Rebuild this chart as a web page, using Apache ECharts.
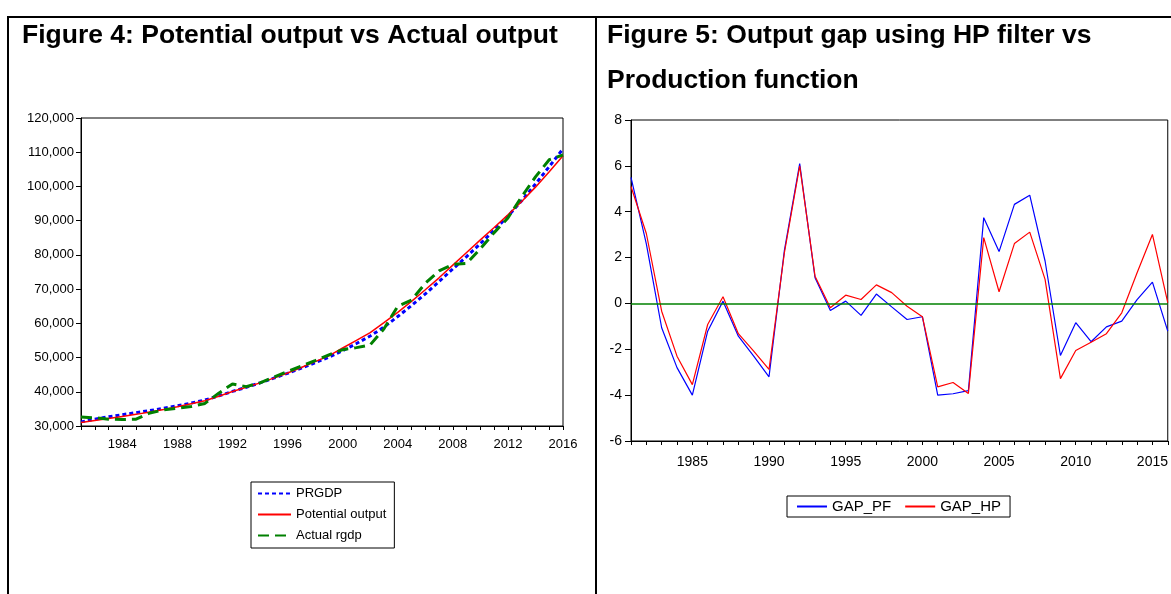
<!DOCTYPE html>
<html>
<head>
<meta charset="utf-8">
<script src="https://cdn.jsdelivr.net/npm/echarts@6/dist/echarts.min.js"></script>
<style>
html,body{margin:0;padding:0;background:#fff;}
#c{width:1171px;height:594px;}
</style>
</head>
<body>
<div id="c"></div>
<script>
// ---------- DATA ----------
const years = ['1981','1982','1983','1984','1985','1986','1987','1988','1989','1990',
  '1991','1992','1993','1994','1995','1996','1997','1998','1999','2000',
  '2001','2002','2003','2004','2005','2006','2007','2008','2009','2010',
  '2011','2012','2013','2014','2015','2016'];

// Figure 4
const prgdp = [31200,32000,32700,33300,33900,34500,35200,35900,36700,37600,
  38800,40100,41300,42600,44000,45400,46900,48500,50100,52000,
  54100,56300,58900,62000,65200,68600,72200,75900,79500,83300,
  87200,91300,95800,100700,105800,111000];
const potentialOutput = [31000,31600,32200,32800,33400,34100,34800,35600,36500,37400,
  38700,40100,41300,42600,44000,45500,47100,48800,50500,52800,
  55000,57300,60200,63200,66400,69800,73300,77000,80700,84400,
  88000,91700,95600,99800,104300,109000];
const actualRgdp = [32600,32400,32000,31900,32000,33800,34700,35200,35700,36600,
  39600,42300,41500,42600,44300,45900,47500,49100,50800,52300,
  52900,53700,58400,65000,66800,71700,75300,77200,77500,81800,
  86500,90800,97000,102800,107800,109200];

// Figure 5
const gapPF = [5.5,2.6,-1.06,-2.8,-4.0,-1.21,0.1,-1.43,-2.3,-3.2,
  2.3,6.1,1.12,-0.31,0.1,-0.52,0.41,-0.15,-0.7,-0.58,
  -4.0,-3.94,-3.8,3.74,2.26,4.32,4.72,1.85,-2.27,-0.84,
  -1.67,-1.02,-0.77,0.17,0.93,-1.21];
const gapHP = [5.1,3.05,-0.34,-2.3,-3.54,-0.92,0.29,-1.32,-2.08,-2.88,
  2.2,6.0,1.19,-0.19,0.36,0.17,0.81,0.47,-0.12,-0.58,
  -3.64,-3.45,-3.93,2.87,0.51,2.61,3.11,1.05,-3.28,-2.05,
  -1.69,-1.32,-0.41,1.34,3.01,0.03];

const leftYTicks = {min:30000, max:120000, step:10000};
const rightYTicks = {min:-6, max:8, step:2};

// ---------- CHART ----------
const chart = echarts.init(document.getElementById('c'), null, {renderer:'canvas'});
const FONT = '"Liberation Sans", Arial, sans-serif';
const axisCommon = {
  splitLine:{show:false}
};

const option = {
  backgroundColor:'#fff',
  animation:false,
  textStyle:{fontFamily:FONT},
  graphic:[
    {type:'line', shape:{x1:7,y1:17,x2:1171,y2:17}, style:{stroke:'#000', lineWidth:2}},
    {type:'line', shape:{x1:8,y1:17,x2:8,y2:594}, style:{stroke:'#000', lineWidth:2}},
    {type:'line', shape:{x1:596,y1:17,x2:596,y2:594}, style:{stroke:'#000', lineWidth:2}},
    {type:'text', left:22, top:22, style:{text:'Figure 4: Potential output vs Actual output', font:'bold 26.5px ' + FONT, fill:'#000'}},
    {type:'text', left:607, top:22, style:{text:'Figure 5: Output gap using HP filter vs', font:'bold 26.5px ' + FONT, fill:'#000'}},
    {type:'text', left:607, top:67, style:{text:'Production function', font:'bold 26.5px ' + FONT, fill:'#000'}}
  ],
  grid:[
    {left:81, top:118, width:482, height:308, show:true, borderColor:'#000', borderWidth:1, backgroundColor:'rgba(0,0,0,0)'},
    {left:631, top:120, width:538, height:321, show:true, borderColor:'#000', borderWidth:1, backgroundColor:'rgba(0,0,0,0)'}
  ],
  xAxis:[
    Object.assign({}, axisCommon, {
      gridIndex:0, type:'category', data:years, boundaryGap:false,
      axisLine:{show:true, onZero:false, lineStyle:{color:'#000', width:1}},
      axisTick:{show:true, interval:0, length:4, lineStyle:{color:'#000'}},
      axisLabel:{interval:(i,v)=> (+v)%4===0, color:'#000', fontSize:13, margin:12, fontFamily:FONT}
    }),
    Object.assign({}, axisCommon, {
      gridIndex:1, type:'category', data:years, boundaryGap:false,
      axisLine:{show:true, onZero:false, lineStyle:{color:'#000', width:1}},
      axisTick:{show:true, interval:0, length:4, lineStyle:{color:'#000'}},
      axisLabel:{interval:(i,v)=> (+v)%5===0, color:'#000', fontSize:14, margin:14, fontFamily:FONT}
    })
  ],
  yAxis:[
    Object.assign({}, axisCommon, {
      gridIndex:0, type:'value', min:leftYTicks.min, max:leftYTicks.max, interval:leftYTicks.step,
      axisLine:{show:true, lineStyle:{color:'#000', width:1}},
      axisTick:{show:true, length:5, lineStyle:{color:'#000'}},
      axisLabel:{color:'#000', fontSize:13, margin:7, fontFamily:FONT, padding:[0,0,7,0],
        formatter:v=>v.toLocaleString('en-US')}
    }),
    Object.assign({}, axisCommon, {
      gridIndex:1, type:'value', min:rightYTicks.min, max:rightYTicks.max, interval:rightYTicks.step,
      axisLine:{show:true, lineStyle:{color:'#000', width:1}},
      axisTick:{show:true, length:6, lineStyle:{color:'#000'}},
      axisLabel:{color:'#000', fontSize:14, margin:9, fontFamily:FONT, padding:[0,0,7,0]}
    })
  ],
  legend:[
    {
      data:['PRGDP','Potential output','Actual rgdp'],
      orient:'vertical', left:251, top:482,
      borderColor:'#000', borderWidth:1, borderRadius:0,
      padding:[5,8,6,6], itemWidth:33, itemHeight:14, itemGap:8,
      itemStyle:{opacity:0},
      textStyle:{color:'#000', fontSize:13, fontFamily:FONT},
      selectedMode:false
    },
    {
      data:['GAP_PF','GAP_HP'],
      orient:'horizontal', left:787, top:496,
      borderColor:'#000', borderWidth:1, borderRadius:0,
      padding:[3,9,3,9], itemWidth:30, itemHeight:14, itemGap:13,
      itemStyle:{opacity:0},
      textStyle:{color:'#000', fontSize:15, fontFamily:FONT},
      selectedMode:false
    }
  ],
  series:[
    {name:'PRGDP', type:'line', xAxisIndex:0, yAxisIndex:0, data:prgdp, symbol:'none',
      lineStyle:{color:'#0000ff', width:3, type:[4,3]}, itemStyle:{color:'#0000ff'}},
    {name:'Potential output', type:'line', xAxisIndex:0, yAxisIndex:0, data:potentialOutput, symbol:'none',
      lineStyle:{color:'#ff0000', width:1.5}, itemStyle:{color:'#ff0000'}},
    {name:'Actual rgdp', type:'line', xAxisIndex:0, yAxisIndex:0, data:actualRgdp, symbol:'none',
      lineStyle:{color:'#008000', width:3, type:[11,6]}, itemStyle:{color:'#008000'}},
    {name:'GAP_PF', type:'line', xAxisIndex:1, yAxisIndex:1, data:gapPF, symbol:'none',
      lineStyle:{color:'#0000ff', width:1.2}, itemStyle:{color:'#0000ff'},
      markLine:{silent:true, symbol:'none', label:{show:false},
        lineStyle:{color:'#008000', width:1.5, type:'solid'}, data:[{yAxis:0}]}},
    {name:'GAP_HP', type:'line', xAxisIndex:1, yAxisIndex:1, data:gapHP, symbol:'none',
      lineStyle:{color:'#ff0000', width:1.2}, itemStyle:{color:'#ff0000'}}
  ]
};
chart.setOption(option);
</script>
</body>
</html>
